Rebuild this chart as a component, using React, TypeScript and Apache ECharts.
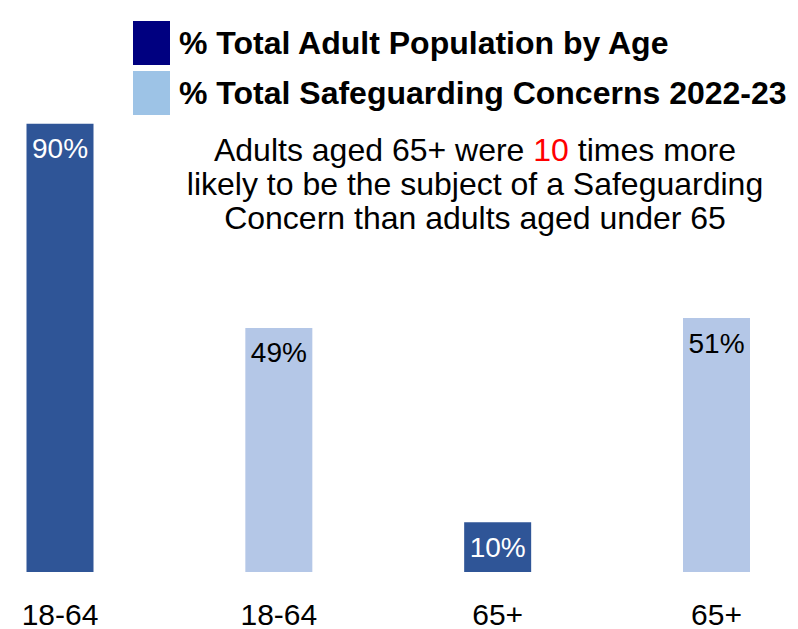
import React, { useEffect, useRef } from "react";
import * as echarts from "echarts";

const categories = ["18-64", "18-64", "65+", "65+"];
const populationValues: (number | string)[] = [90, "-", 10, "-"];
const concernValues: (number | string)[] = ["-", 49, "-", 51];
const seriesNames = ["% Total Adult Population by Age", "% Total Safeguarding Concerns 2022-23"];
const FONT = "'Liberation Sans', Arial, sans-serif";

export default function App() {
  const ref = useRef<HTMLDivElement>(null);
  useEffect(() => {
    if (!ref.current) return;
    const chart = echarts.init(ref.current, undefined, { renderer: "svg" });
    chart.setOption({
      animation: false,
      backgroundColor: "#ffffff",
      legend: {
        orient: "vertical",
        left: 128,
        top: 16,
        itemWidth: 37,
        itemHeight: 44,
        itemGap: 6,
        icon: "rect",
        selectedMode: false,
        textStyle: {
          fontFamily: FONT,
          fontSize: 32,
          fontWeight: "bold",
          color: "#000000",
          padding: [0, 0, 0, 4],
        },
        data: [
          { name: seriesNames[0], itemStyle: { color: "#000080" } },
          { name: seriesNames[1], itemStyle: { color: "#9DC3E6" } },
        ],
      },
      grid: { left: 60, right: 81.5, top: 74, bottom: 57, outerBoundsMode: "none", containLabel: false },
      xAxis: {
        type: "category",
        data: categories,
        boundaryGap: false,
        axisLine: { show: false },
        axisTick: { show: false },
        splitLine: { show: false },
        axisLabel: {
          interval: 0,
          margin: 27,
          fontFamily: FONT,
          fontSize: 30,
          color: "#000000",
        },
      },
      yAxis: { type: "value", min: 0, max: 100, show: false },
      series: [
        {
          name: seriesNames[0],
          type: "bar",
          data: populationValues,
          barWidth: 67,
          barGap: "-100%",
          clip: false,
          itemStyle: { color: "#2F5597" },
          label: {
            show: true,
            position: "insideTop",
            distance: 11,
            formatter: "{c}%",
            fontFamily: FONT,
            fontSize: 28,
            color: "#ffffff",
          },
        },
        {
          name: seriesNames[1],
          type: "bar",
          data: concernValues,
          barWidth: 67,
          barGap: "-100%",
          clip: false,
          itemStyle: { color: "#B4C7E7" },
          label: {
            show: true,
            position: "insideTop",
            distance: 11,
            formatter: "{c}%",
            fontFamily: FONT,
            fontSize: 28,
            color: "#000000",
          },
        },
      ],
      graphic: [
        {
          type: "text",
          x: 475,
          y: 133,
          style: {
            text:
              "{n|Adults aged 65+ were }{r|10}{n| times more}\n{n|likely to be the subject of a Safeguarding}\n{n|Concern than adults aged under 65}",
            align: "center",
            verticalAlign: "top",
            rich: {
              n: { fontFamily: FONT, fontSize: 32, lineHeight: 34, fill: "#000000", color: "#000000" },
              r: { fontFamily: FONT, fontSize: 32, lineHeight: 34, fill: "#FF0000", color: "#FF0000" },
            },
          },
        },
      ],
    });
    return () => chart.dispose();
  }, []);
  return <div ref={ref} style={{ position: "fixed", left: 0, top: 0, width: 798, height: 629 }} />;
}
